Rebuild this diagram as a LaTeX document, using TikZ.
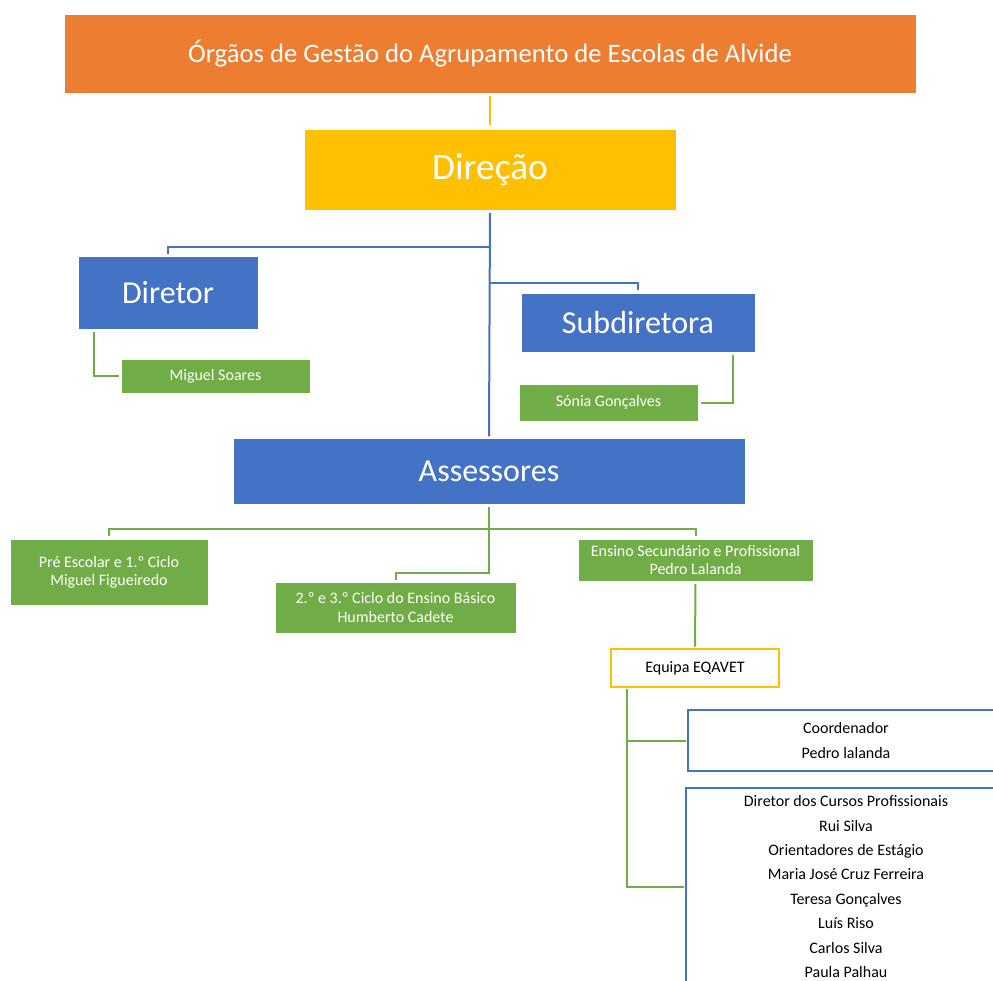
\documentclass[tikz,border=0pt]{standalone}
\usepackage{fontspec}
\setmainfont{Carlito}
\usetikzlibrary{positioning}
\definecolor{orgorange}{HTML}{ED7D31}
\definecolor{orggold}{HTML}{FFC000}
\definecolor{orgblue}{HTML}{4472C4}
\definecolor{orggreen}{HTML}{70AD47}

\begin{document}
\begin{tikzpicture}[x=0.75pt,y=-0.75pt,
    box/.style={draw=white,line width=0.4pt,text=white,inner sep=0pt,align=center},
    headbox/.style={box,font=\fontsize{24}{29}\selectfont},
    namebox/.style={box,fill=orggreen,font=\fontsize{12}{13.5}\selectfont},
    listbox/.style={draw=orgblue,line width=1.6pt,fill=white,text=black,align=center,
        font=\fontsize{12}{18.3}\selectfont},
    blueline/.style={draw=orgblue,line width=1.5pt},
    greenline/.style={draw=orggreen,line width=1.5pt},
    yellowline/.style={draw=orggold,line width=1.5pt}]

\useasboundingbox (0,0) rectangle (993,981);
\clip (0,0) rectangle (993,981);

% topo
\node[box,fill=orgorange,minimum width=639pt,minimum height=59.25pt,
    font=\fontsize{20}{24}\selectfont] (titulo) at (490,53.5)
    {Órgãos de Gestão do Agrupamento de Escolas de Alvide};
\node[box,fill=orggold,minimum width=279pt,minimum height=60.75pt,
    font=\fontsize{28}{34}\selectfont] (direcao) at (490,169.5) {Direção};

% direcao
\node[headbox,fill=orgblue,minimum width=135pt,minimum height=54.75pt] (diretor) at (168,292.5) {Diretor};
\node[namebox,minimum width=141.75pt,minimum height=25.5pt] (miguel) at (215.5,376) {Miguel Soares};
\node[headbox,fill=orgblue,minimum width=175.5pt,minimum height=44.25pt] (subdir) at (638,322.5) {Subdiretora};
\node[namebox,minimum width=134.25pt,minimum height=27.75pt] (sonia) at (608.5,402.5) {Sónia Gonçalves};
\node[headbox,fill=orgblue,minimum width=384pt,minimum height=49.5pt] (assessores) at (489,471) {Assessores};

% assessores
\node[namebox,minimum width=148.5pt,minimum height=49.5pt] (pre) at (109,572)
    {Pré Escolar e 1.º Ciclo\\Miguel Figueiredo};
\node[namebox,minimum width=180.75pt,minimum height=38.25pt] (basico) at (395.5,607.5)
    {2.º e 3.º Ciclo do Ensino Básico\\Humberto Cadete};
\node[namebox,minimum width=176.25pt,minimum height=31.5pt] (ensino) at (695.5,560)
    {Ensino Secundário e Profissional\\Pedro Lalanda};

% equipa EQAVET
\node[draw=orggold,line width=1.6pt,fill=white,minimum width=126pt,minimum height=28.5pt,
    font=\fontsize{12}{14}\selectfont] (eqavet) at (695,668) {Equipa EQAVET};
\node[listbox,minimum width=237pt,minimum height=45.75pt] (coord) at (846,740.5)
    {Coordenador\\Pedro lalanda};
\node[listbox,minimum width=240pt,inner ysep=5.7pt,anchor=north] (equipa) at (846,787)
    {Diretor dos Cursos Profissionais\\Rui Silva\\Orientadores de Estágio\\
     Maria José Cruz Ferreira\\Teresa Gonçalves\\Luís Riso\\Carlos Silva\\Paula Palhau};

% ligacoes
\draw[yellowline,shorten <=2pt,shorten >=3pt] (titulo.south) -- (direcao.north);
\draw[blueline,shorten <=2pt,shorten >=1pt] (direcao.south) -- (assessores.north);
\draw[blueline,shorten >=1.5pt] (direcao.south) ++(0,37) -| (diretor.north);
\draw[blueline,shorten >=2pt] (direcao.south) ++(0,73) -| (subdir.north);
\draw[greenline,shorten <=2pt,shorten >=1.5pt] (diretor.south west) ++(16,0) |- (miguel.west);
\draw[greenline,shorten <=2pt,shorten >=2pt] (subdir.south east) ++(-22,0) |- (sonia.east);
\draw[greenline,shorten >=2pt] (assessores.south) ++(0,25) -| (pre.north);
\draw[greenline,shorten >=2pt] (assessores.south) ++(0,25) -| (ensino.north);
\draw[greenline,shorten <=2pt,shorten >=1pt] (assessores.south) -- ++(0,69) -| (basico.north);
\draw[greenline,shorten <=2pt,shorten >=1pt] (ensino.south) -- (eqavet.north);
\draw[greenline,shorten <=1pt,shorten >=1pt] (eqavet.south west) ++(17,0) |- (coord.west);
\draw[greenline,shorten <=1pt,shorten >=1pt] (eqavet.south west) ++(17,0) |- (equipa.west);

\end{tikzpicture}
\end{document}
